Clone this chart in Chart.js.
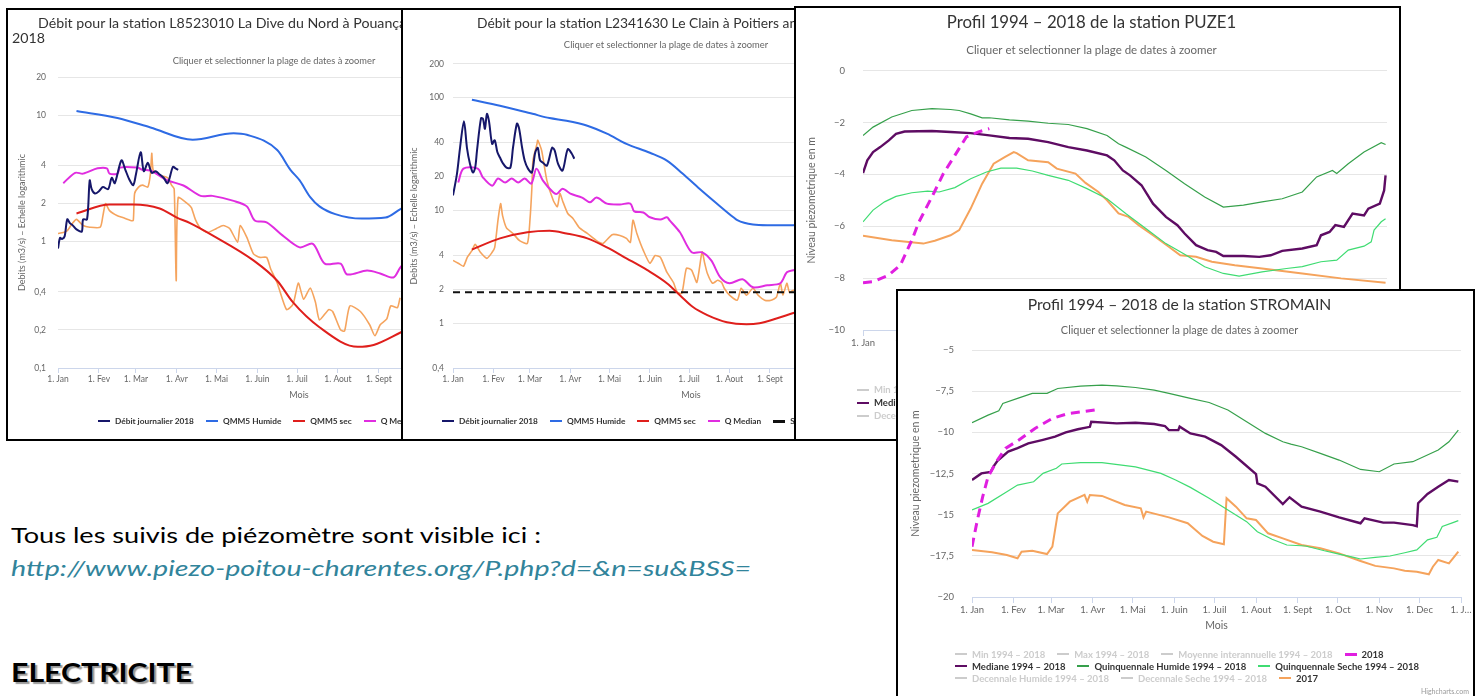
<!DOCTYPE html>
<html lang="fr">
<head>
<meta charset="utf-8">
<title>Débits et piézomètres</title>
<script src="https://cdn.jsdelivr.net/npm/chart.js@4.4.1/dist/chart.umd.min.js"></script>
<style>
  body { margin: 0; width: 1480px; height: 696px; background: #fff; position: relative; overflow: hidden; font-family: Lato, sans-serif; }
  .panel { position: absolute; box-sizing: border-box; border: 2px solid #000; background: #fff; overflow: hidden; }
  .panel canvas { position: absolute; left: 0; top: 0; }
  #p1 { left: 6px; top: 8px; width: 412px; height: 433px; z-index: 1; }
  #p2 { left: 401px; top: 8px; width: 400px; height: 433px; z-index: 2; }
  #p3 { left: 794px; top: 6px; width: 607px; height: 435px; z-index: 3; }
  #p4 { left: 896px; top: 289px; width: 579px; height: 430px; z-index: 4; }
  .htitle { position: absolute; white-space: nowrap; font-size: 14.2px; line-height: 16px; color: #333; }
  .legend { position: absolute; white-space: nowrap; font-weight: bold; color: #333; }
  .legend .row { display: flex; align-items: center; }
  .legend .item { display: flex; align-items: center; margin-right: 12px; }
  .legend .sym { display: inline-block; width: 12px; height: 0; border-top: 2px solid #000; margin-right: 5px; }
  #l1, #l2 { top: 405px; font-size: 8.3px; }
  #l1 .row, #l2 .row { height: 12px; }
  #l1 { left: 90px; }
  #l2 { left: 39px; }
  #l3 { left: 61px; top: 375px; font-size: 9.5px; }
  #l3 .row { height: 13px; }
  #l4 { left: 57px; top: 357px; font-size: 9.5px; }
  #l4 .row { height: 12px; }
  .credit { position: absolute; right: 4px; top: 396px; font-size: 7px; color: #999; }
  .doc { position: absolute; left: 11px; white-space: nowrap; transform-origin: left center; }
  #t1 { top: 522px; font-size: 22px; line-height: 26px; color: #000; transform: scaleX(1.233); }
  #t2 { top: 555px; font-size: 22px; line-height: 26px; font-style: italic; color: #31849b; transform: scaleX(1.3); }
  #t3 { top: 656px; font-size: 27px; line-height: 32px; font-weight: bold; color: #000; text-shadow: 2px 2px 1px #9a9a9a; transform: scaleX(1.12); }
</style>
</head>
<body>

<div class="panel" id="p1">
  <canvas id="c1" width="538" height="429"></canvas>
  <div class="htitle" style="left:30px; top:5px">Débit pour la station L8523010 La Dive du Nord à Pouançay année</div>
  <div class="htitle" style="left:4px; top:20px">2018</div>
  <div class="legend" id="l1"></div>
</div>

<div class="panel" id="p2">
  <canvas id="c2" width="532" height="429"></canvas>
  <div class="legend" id="l2"></div>
</div>

<div class="panel" id="p3">
  <canvas id="c3" width="603" height="431"></canvas>
  <div class="legend" id="l3"></div>
</div>

<div class="panel" id="p4">
  <canvas id="c4" width="575" height="426"></canvas>
  <div class="legend" id="l4"></div>
  <div class="credit">Highcharts.com</div>
</div>

<div class="doc" id="t1">Tous les suivis de piézomètre sont visible ici :</div>
<div class="doc" id="t2">http://www.piezo-poitou-charentes.org/P.php?d=&amp;n=su&amp;BSS=</div>
<div class="doc" id="t3">ELECTRICITE</div>

<script>
// axis ticks (day of year)
const monthStarts = [0, 31, 59, 90, 120, 151, 181, 212, 243, 273, 304, 334];
const monthLabels = ['1. Jan', '1. Fev', '1. Mar', '1. Avr', '1. Mai', '1. Juin', '1. Juil', '1. Aout', '1. Sept', '1. Oct', '1. Nov', '1. Dec'];
const yearTicks = monthStarts.concat([365]);
const yearLabels = monthLabels.concat(['1. J…']);

const diveTicks = [0.1, 0.2, 0.4, 1, 2, 4, 10, 20];
const clainTicks = [0.4, 1, 2, 4, 10, 20, 40, 100, 200];

// La Dive du Nord a Pouancay
const diveDays2018 = [0, 1.5, 3, 5, 7, 9, 11, 14, 18, 19, 22, 24, 25.5, 28, 31, 34, 38, 40.7, 43, 48, 51, 54, 57, 59, 62.6, 65, 68, 71, 74, 77, 80, 83, 87, 89, 91];
const diveFlow2018 = [0.88, 1.07, 1.05, 1.1, 1.5, 1.4, 1.35, 1.25, 1.2, 1.5, 1.5, 3.05, 2.6, 2.4, 2.5, 2.7, 2.6, 3.2, 2.9, 4.4, 3.7, 3.1, 2.8, 3.4, 5.1, 3.6, 4.2, 3.5, 3.6, 3.4, 3.2, 2.9, 3.9, 3.8, 3.7];
const diveHumDays = [14, 45, 70, 102, 133, 143, 166, 176, 183, 191, 198, 210, 230, 248, 259, 267];
const diveHum = [10.8, 9.5, 8.0, 6.4, 7.2, 7.0, 5.3, 3.7, 3.05, 2.25, 1.9, 1.65, 1.52, 1.55, 1.8, 2.0];
const diveSecDays = [14, 39, 57, 77, 90, 100, 117, 148, 166, 178, 198, 227, 239, 259, 267];
const diveSec = [1.67, 1.97, 1.97, 1.83, 1.55, 1.4, 1.12, 0.71, 0.49, 0.33, 0.21, 0.147, 0.152, 0.19, 0.21];
const diveMedDays = [4, 13, 19, 30, 37, 39, 45, 47, 60, 64, 70, 83, 95, 108, 117, 133, 143, 149, 158, 170, 183, 193, 202, 214, 219, 234, 244, 254, 259, 263];
const diveMed = [2.9, 3.5, 3.45, 3.8, 3.8, 3.45, 3.45, 3.85, 3.85, 3.7, 3.65, 3.05, 2.78, 2.3, 2.3, 2.1, 1.9, 1.47, 1.42, 1.12, 0.9, 0.96, 0.67, 0.67, 0.55, 0.59, 0.56, 0.52, 0.62, 0.7];
const diveDays2017 = [0, 4, 7, 11, 14, 19, 24, 32, 34, 36, 39, 45, 49, 55, 57, 58, 61, 64, 68, 70, 71, 72, 75, 77, 83, 86, 88, 89.5, 91, 98, 101, 104, 108, 113, 120, 125, 130, 136, 138, 143, 148, 153, 158, 161, 166, 173, 178, 182, 186, 191, 195, 198, 205, 208, 214, 217, 221, 229, 236, 240, 244, 249, 252, 257, 259];
const diveFlow2017 = [1.16, 1.18, 1.22, 1.4, 1.5, 1.34, 1.3, 1.3, 1.6, 2.0, 1.76, 1.6, 1.55, 1.47, 1.47, 2.4, 2.7, 2.8, 2.7, 3.45, 5.0, 3.7, 3.45, 3.35, 3.2, 2.8, 2.6, 0.49, 2.23, 2.0, 1.86, 1.5, 1.27, 1.18, 1.27, 1.34, 1.27, 0.99, 1.34, 1.08, 0.8, 0.75, 0.75, 0.61, 0.47, 0.29, 0.32, 0.47, 0.35, 0.43, 0.33, 0.24, 0.29, 0.28, 0.2, 0.196, 0.31, 0.28, 0.22, 0.18, 0.22, 0.245, 0.31, 0.3, 0.36];

// Le Clain a Poitiers
const clainDays2018 = [0, 3, 5.4, 8.4, 10.7, 13, 15.3, 17, 18.4, 21.5, 23, 24.5, 26, 27.6, 30, 32, 34, 36, 38, 41, 44, 46, 49, 50.6, 53, 55, 57.5, 60.5, 63, 65, 66.7, 69, 72, 76, 78, 80.5, 84, 88, 91, 93];
const clainFlow2018 = [13.6, 21, 36, 62, 36, 26, 21.7, 24, 34, 66, 65, 53, 72, 62, 39, 42, 33, 29.5, 26.5, 24, 24, 36, 59, 54, 36, 27.6, 23.5, 21.7, 32.5, 36, 28, 26.5, 25, 36, 34, 26, 22.6, 35, 32, 28.8];
const clainHumDays = [14.5, 36, 61, 74, 87, 103, 118, 133, 151, 164, 176, 189, 202, 215, 218, 230, 241, 261, 266];
const clainHum = [96, 85, 72, 66, 62.6, 56.5, 48, 39, 32.5, 27.7, 21.3, 15.6, 11.6, 8.7, 8.2, 7.5, 7.4, 7.4, 7.5];
const clainSecDays = [14.5, 36, 57, 74, 87, 103, 118, 133, 149, 164, 174, 184, 195, 210, 225, 235, 248, 261, 266];
const clainSec = [4.5, 5.65, 6.4, 6.6, 6.25, 5.65, 4.7, 3.76, 2.95, 2.26, 1.77, 1.39, 1.18, 1.02, 0.98, 1.0, 1.1, 1.23, 1.28];
const clainMedDays = [4, 8, 19, 23, 30, 34.5, 40, 45, 50, 55, 60, 64, 69, 77, 80, 84, 90, 99, 105, 110, 118, 128, 136, 139, 146, 151, 159, 164, 166, 174, 183, 191, 198, 205, 212, 222, 230, 241, 251, 256, 261, 266];
const clainMed = [17.7, 23.5, 23.5, 19.6, 16.6, 19.2, 17.7, 19.2, 17.7, 19.2, 17.3, 23.5, 18.4, 14.4, 14.1, 15.6, 14.1, 13.0, 11.8, 13.0, 11.5, 11.3, 11.5, 9.8, 9.6, 8.7, 8.3, 8.7, 8.2, 6.4, 4.25, 4.25, 3.6, 2.55, 2.26, 2.45, 2.08, 2.17, 2.26, 2.83, 2.95, 3.0];
const clainSeuilDays = [0, 365];
const clainSeuil = [1.88, 1.88];
const clainDays2017 = [0, 4, 8, 11, 14.5, 17, 21, 26, 30, 32, 34.5, 36.5, 38, 41, 46, 51, 57, 59, 60.5, 61.3, 64.4, 65, 68, 72, 77, 80, 82, 84, 88, 92, 97, 103, 110, 115, 122, 128, 133, 136, 138, 141, 146, 151, 155, 159, 164, 169, 172, 175.5, 179, 183, 187, 191, 193, 195, 199, 203, 206, 208, 212, 218, 221, 225, 230, 234, 239, 244, 248, 251, 253, 256, 258, 261, 266];
const clainFlow2017 = [3.6, 3.4, 3.2, 3.85, 4.4, 5.0, 4.25, 3.76, 4.25, 4.7, 8.2, 11.5, 9, 7.0, 6.25, 5.4, 5.1, 8.2, 16, 27.7, 39, 42, 34, 18.4, 12.2, 10.8, 14.1, 12.2, 9.4, 8.5, 7.0, 6.25, 5.4, 5.1, 6.1, 6.0, 5.65, 5.2, 8.2, 6.25, 4.4, 3.4, 3.98, 3.84, 2.83, 2.3, 1.88, 1.84, 3.07, 2.95, 2.3, 4.3, 3.4, 2.77, 2.26, 2.4, 2.3, 2.04, 1.77, 1.6, 2.04, 1.77, 2.04, 1.77, 1.6, 1.6, 1.7, 2.26, 1.77, 2.26, 1.88, 1.96, 1.9];

// PUZE1
const puzeDays2018 = [0, 7, 18, 26, 34, 39, 48, 56, 64, 72, 80, 88];
const puze2018 = [-8.18, -8.14, -7.88, -7.5, -6.54, -5.83, -4.87, -3.97, -3.27, -2.56, -2.37, -2.24];
const puzeMedDays = [0, 3, 7, 12, 18, 23, 29, 48, 61, 75, 88, 102, 115, 129, 143, 156, 170, 175, 181, 186, 194, 202, 211, 219, 224, 232, 240, 246, 251, 265, 276, 284, 292, 306, 316, 319, 325, 329, 335, 341, 349, 352, 360, 363, 364];
const puzeMed = [-3.95, -3.46, -3.14, -2.95, -2.69, -2.44, -2.35, -2.33, -2.37, -2.41, -2.5, -2.6, -2.63, -2.76, -2.95, -3.08, -3.27, -3.46, -3.85, -4.04, -4.42, -5.13, -5.64, -5.96, -6.28, -6.73, -6.92, -6.99, -7.15, -7.15, -7.18, -7.12, -6.95, -6.86, -6.73, -6.35, -6.22, -5.96, -6.03, -5.51, -5.58, -5.32, -5.13, -4.62, -4.04];
const puzeHumDays = [0, 7, 20, 34, 48, 61, 67, 75, 83, 88, 102, 115, 129, 143, 156, 170, 178, 183, 197, 211, 224, 238, 251, 265, 278, 292, 306, 316, 327, 330, 338, 349, 361, 364];
const puzeHum = [-2.5, -2.18, -1.79, -1.54, -1.47, -1.5, -1.54, -1.67, -1.82, -1.82, -1.9, -1.95, -2.03, -2.08, -2.24, -2.5, -2.82, -2.95, -3.33, -3.85, -4.36, -4.87, -5.26, -5.19, -5.06, -4.94, -4.68, -4.1, -3.85, -3.97, -3.59, -3.14, -2.78, -2.85];
const puzeSecDays = [0, 7, 15, 23, 34, 45, 53, 64, 75, 86, 96, 107, 118, 129, 143, 156, 170, 183, 197, 211, 224, 238, 251, 262, 278, 295, 306, 319, 330, 338, 349, 354, 356, 361, 364];
const puzeSec = [-5.83, -5.38, -5.06, -4.85, -4.71, -4.65, -4.68, -4.51, -4.17, -3.91, -3.76, -3.76, -3.87, -4.04, -4.23, -4.55, -4.94, -5.51, -6.09, -6.67, -7.08, -7.56, -7.82, -7.92, -7.76, -7.63, -7.56, -7.37, -7.31, -6.92, -6.77, -6.6, -6.15, -5.83, -5.71];
const puzeDays2017 = [0, 20, 42, 50, 61, 67, 75, 83, 91, 99, 105, 107, 115, 129, 135, 148, 155, 164, 170, 178, 185, 192, 202, 213, 221, 232, 243, 259, 278, 306, 333, 364];
const puze2017 = [-6.37, -6.54, -6.67, -6.56, -6.35, -6.15, -5.32, -4.36, -3.59, -3.33, -3.14, -3.18, -3.46, -3.53, -3.78, -3.97, -4.33, -4.68, -5.0, -5.51, -5.64, -5.96, -6.35, -6.79, -7.12, -7.18, -7.37, -7.5, -7.63, -7.82, -8.01, -8.18];

// STROMAIN
const stroDays2018 = [0, 4, 8, 12, 19, 25, 35, 47, 60, 72, 82, 92];
const stro2018 = [-16.94, -15.32, -13.9, -12.69, -11.68, -10.97, -10.46, -9.76, -9.15, -8.85, -8.75, -8.64];
const stroMedDays = [0, 7, 14, 16, 19, 27, 34, 42, 53, 62, 70, 79, 88, 89, 108, 122, 136, 144, 147, 154, 155, 163, 174, 186, 197, 212, 213, 219, 232, 237, 246, 260, 274, 290, 293, 307, 315, 329, 332, 333, 340, 348, 356, 363];
const stroMed = [-12.89, -12.49, -12.4, -12.08, -11.72, -11.17, -10.95, -10.67, -10.45, -10.26, -10.0, -9.81, -9.66, -9.35, -9.45, -9.41, -9.49, -9.61, -9.86, -9.86, -9.65, -10.06, -10.26, -10.77, -11.48, -12.53, -13.1, -13.3, -14.35, -13.94, -14.51, -14.81, -15.16, -15.52, -15.22, -15.48, -15.48, -15.63, -15.7, -14.3, -13.74, -13.3, -12.89, -12.99];
const stroHumDays = [0, 12, 20, 23, 34, 45, 56, 64, 81, 97, 108, 122, 136, 147, 163, 177, 191, 205, 219, 232, 238, 246, 260, 274, 290, 304, 315, 329, 348, 356, 363];
const stroHum = [-9.41, -8.95, -8.68, -8.24, -7.93, -7.63, -7.63, -7.33, -7.19, -7.13, -7.17, -7.27, -7.43, -7.63, -7.93, -8.18, -8.64, -9.35, -10.06, -10.57, -10.71, -10.87, -11.27, -11.68, -12.25, -12.39, -11.92, -11.78, -11.07, -10.57, -9.86];
const stroSecDays = [0, 12, 26, 34, 46, 53, 63, 67, 81, 97, 122, 141, 152, 163, 177, 191, 205, 213, 224, 235, 249, 263, 274, 285, 290, 301, 312, 323, 332, 340, 347, 351, 359, 363];
const stroSec = [-14.71, -14.31, -13.6, -13.2, -13.0, -12.49, -12.18, -11.92, -11.84, -11.84, -12.09, -12.49, -12.89, -13.34, -14.0, -14.71, -15.42, -16.03, -16.49, -16.84, -16.9, -17.19, -17.39, -17.59, -17.69, -17.59, -17.51, -17.31, -17.14, -16.53, -16.37, -15.72, -15.48, -15.36];
const stroDays2017 = [0, 15, 26, 34, 37, 45, 56, 60, 64, 73, 84, 86, 88, 97, 114, 126, 128, 130, 147, 161, 172, 180, 188, 190, 197, 205, 212, 221, 232, 246, 260, 274, 290, 301, 315, 323, 332, 341, 344, 348, 356, 359, 363];
const stro2017 = [-17.14, -17.28, -17.45, -17.65, -17.25, -17.19, -17.39, -16.94, -14.92, -14.21, -13.8, -14.21, -13.8, -13.86, -14.41, -14.61, -15.16, -14.81, -15.16, -15.52, -16.29, -16.64, -16.8, -14.0, -14.51, -15.22, -15.32, -16.13, -16.44, -16.84, -17.04, -17.35, -17.81, -18.11, -18.26, -18.4, -18.46, -18.62, -18.16, -17.75, -17.96, -17.65, -17.25];

Chart.defaults.font.family = 'Lato, sans-serif';
Chart.defaults.color = '#666';

const pts = (xs, ys) => xs.map((x, i) => ({ x: x, y: ys[i] }));

// legend drawn as html, rows like the highcharts one
const htmlLegend = {
    id: 'htmlLegend',
    afterUpdate(chart, args, opts) {
        const box = document.getElementById(opts.containerID);
        box.innerHTML = '';
        const sets = chart.data.datasets;
        const rows = opts.rows || [sets.length];
        let start = 0;
        rows.forEach((n) => {
            const row = document.createElement('div');
            row.className = 'row';
            sets.slice(start, start + n).forEach((ds) => {
                const item = document.createElement('span');
                item.className = 'item';
                const sym = document.createElement('span');
                sym.className = 'sym';
                sym.style.borderTopColor = ds.hidden ? '#ccc' : ds.borderColor;
                if (ds.borderDash) {
                    sym.style.borderTopStyle = 'dashed';
                    sym.style.borderTopWidth = '3px';
                }
                const txt = document.createElement('span');
                txt.textContent = ds.label;
                if (ds.hidden) txt.style.color = '#ccc';
                item.append(sym, txt);
                row.appendChild(item);
            });
            box.appendChild(row);
            start += n;
        });
    }
};

function monthAxis(o) {
    return {
        type: 'linear',
        min: 0,
        max: 365,
        afterBuildTicks: (s) => { s.ticks = o.ticks.map((v) => ({ value: v })); },
        afterFit: (s) => { s.height = 36; },
        ticks: {
            autoSkip: false,
            maxRotation: 0,
            padding: 1,
            color: '#666',
            font: { size: o.size },
            callback: (v, i) => o.labels[i],
        },
        grid: { drawOnChartArea: false, color: '#ccd6eb', tickLength: o.tick },
        border: { color: '#ccd6eb' },
        title: { display: true, text: 'Mois', color: '#666', font: { size: o.titleSize }, padding: { top: 0, bottom: o.titlePad } },
    };
}

function logAxis(o) {
    return {
        type: 'logarithmic',
        min: o.min,
        max: o.max,
        afterBuildTicks: (s) => { s.ticks = o.ticks.map((v) => ({ value: v })); },
        afterFit: (s) => { s.width = 50; },
        ticks: { padding: o.pad, color: '#666', font: { size: 8.5 }, callback: (v) => String(v).replace('.', ',') },
        grid: { color: '#e6e6e6', drawTicks: false },
        border: { display: false },
        title: { display: true, text: 'Debits (m3/s) – Echelle logarithmic', color: '#666', font: { size: 9 }, padding: { top: o.titlePad } },
    };
}

function levelAxis(o) {
    return {
        type: 'linear',
        min: o.min,
        max: o.max,
        afterFit: (s) => { s.width = o.width; },
        ticks: { stepSize: o.step, padding: 18, color: '#666', font: { size: 9.5 }, callback: (v) => String(v).replace('-', '−').replace('.', ',') },
        grid: { color: '#e6e6e6', drawTicks: false },
        border: { display: false },
        title: { display: true, text: 'Niveau piezometrique en m', color: '#666', font: { size: 10.5 }, padding: { top: o.titlePad } },
    };
}

const subtitleText = 'Cliquer et selectionner la plage de dates à zoomer';

// Dive du Nord
new Chart(document.getElementById('c1'), {
    type: 'line',
    data: {
        datasets: [
            { label: 'Débit journalier 2018', data: pts(diveDays2018, diveFlow2018), borderColor: '#16176a', tension: 0.3 },
            { label: 'QMM5 Humide', data: pts(diveHumDays, diveHum), borderColor: '#2e6be4', cubicInterpolationMode: 'monotone' },
            { label: 'QMM5 sec', data: pts(diveSecDays, diveSec), borderColor: '#df1f1c', cubicInterpolationMode: 'monotone' },
            { label: 'Q Median', data: pts(diveMedDays, diveMed), borderColor: '#e02de0', tension: 0.3 },
            { label: 'Débit journalier 2017', data: pts(diveDays2017, diveFlow2017), borderColor: '#f5a45e', borderWidth: 1.6, tension: 0.2 },
        ],
    },
    options: {
        responsive: false,
        animation: false,
        devicePixelRatio: 1,
        layout: { padding: { top: 40, right: 6, bottom: 35, left: 0 } },
        elements: { point: { radius: 0 }, line: { borderWidth: 2 } },
        plugins: {
            legend: { display: false },
            tooltip: { enabled: false },
            subtitle: { display: true, text: subtitleText, color: '#666', font: { size: 9.3 }, padding: { top: 5, bottom: 11 } },
            htmlLegend: { containerID: 'l1' },
        },
        scales: {
            x: monthAxis({ ticks: monthStarts, labels: monthLabels, size: 8.5, tick: 5, titleSize: 9, titlePad: 3.6 }),
            y: logAxis({ min: 0.1, max: 20, ticks: diveTicks, pad: 12, titlePad: 8.6 }),
        },
    },
    plugins: [htmlLegend],
});

// Clain
new Chart(document.getElementById('c2'), {
    type: 'line',
    data: {
        datasets: [
            { label: 'Débit journalier 2018', data: pts(clainDays2018, clainFlow2018), borderColor: '#16176a', tension: 0.3 },
            { label: 'QMM5 Humide', data: pts(clainHumDays, clainHum), borderColor: '#2e6be4', cubicInterpolationMode: 'monotone' },
            { label: 'QMM5 sec', data: pts(clainSecDays, clainSec), borderColor: '#df1f1c', cubicInterpolationMode: 'monotone' },
            { label: 'Q Median', data: pts(clainMedDays, clainMed), borderColor: '#e02de0', tension: 0.3 },
            { label: 'Seuil', data: pts(clainSeuilDays, clainSeuil), borderColor: '#111', borderDash: [7, 5] },
            { label: 'Débit journalier 2017', data: pts(clainDays2017, clainFlow2017), borderColor: '#f5a45e', borderWidth: 1.6, tension: 0.2 },
        ],
    },
    options: {
        responsive: false,
        animation: false,
        devicePixelRatio: 1,
        layout: { padding: { top: 0, right: 6, bottom: 35, left: 0 } },
        elements: { point: { radius: 0 }, line: { borderWidth: 2 } },
        plugins: {
            legend: { display: false },
            tooltip: { enabled: false },
            title: { display: true, text: 'Débit pour la station L2341630 Le Clain à Poitiers année 2018', color: '#333', font: { size: 13.8, weight: 'normal' }, padding: { top: 5, bottom: 8 } },
            subtitle: { display: true, text: subtitleText, color: '#666', font: { size: 9.4 }, padding: { top: 0, bottom: 13 } },
            htmlLegend: { containerID: 'l2' },
        },
        scales: {
            x: monthAxis({ ticks: monthStarts, labels: monthLabels, size: 8.5, tick: 5, titleSize: 9, titlePad: 3.6 }),
            y: logAxis({ min: 0.4, max: 200, ticks: clainTicks, pad: 9, titlePad: 5.6 }),
        },
    },
    plugins: [htmlLegend],
});

function profileSets(d2018, v2018, dMed, vMed, dHum, vHum, dSec, vSec, d2017, v2017) {
    return [
        { label: 'Min 1994 – 2018', data: [], hidden: true, borderColor: '#888' },
        { label: 'Max 1994 – 2018', data: [], hidden: true, borderColor: '#888' },
        { label: 'Moyenne interannuelle 1994 – 2018', data: [], hidden: true, borderColor: '#888' },
        { label: '2018', data: pts(d2018, v2018), borderColor: '#e01fe0', borderWidth: 3, borderDash: [9, 6] },
        { label: 'Mediane 1994 – 2018', data: pts(dMed, vMed), borderColor: '#5e0c63', borderWidth: 2.4 },
        { label: 'Quinquennale Humide 1994 – 2018', data: pts(dHum, vHum), borderColor: '#36a04b', borderWidth: 1.2 },
        { label: 'Quinquennale Seche 1994 – 2018', data: pts(dSec, vSec), borderColor: '#3fdc72', borderWidth: 1.2 },
        { label: 'Decennale Humide 1994 – 2018', data: [], hidden: true, borderColor: '#888' },
        { label: 'Decennale Seche 1994 – 2018', data: [], hidden: true, borderColor: '#888' },
        { label: '2017', data: pts(d2017, v2017), borderColor: '#f5a35c', borderWidth: 2 },
    ];
}

// PUZE1
new Chart(document.getElementById('c3'), {
    type: 'line',
    data: { datasets: profileSets(puzeDays2018, puze2018, puzeMedDays, puzeMed, puzeHumDays, puzeHum, puzeSecDays, puzeSec, puzeDays2017, puze2017) },
    options: {
        responsive: false,
        animation: false,
        devicePixelRatio: 1,
        layout: { padding: { top: 0, right: 12, bottom: 73, left: 0 } },
        elements: { point: { radius: 0 } },
        plugins: {
            legend: { display: false },
            tooltip: { enabled: false },
            title: { display: true, text: 'Profil 1994 – 2018 de la station PUZE1', color: '#333', font: { size: 16.8, weight: 'normal' }, padding: { top: 5, bottom: 10 } },
            subtitle: { display: true, text: subtitleText, color: '#666', font: { size: 11.5 }, padding: { top: 0, bottom: 13.6 } },
            htmlLegend: { containerID: 'l3', rows: [4, 3, 3] },
        },
        scales: {
            x: monthAxis({ ticks: yearTicks, labels: yearLabels, size: 9.5, tick: 6, titleSize: 10.5, titlePad: 1 }),
            y: levelAxis({ min: -10, max: 0, step: 2, width: 67, titlePad: 9.7 }),
        },
    },
    plugins: [htmlLegend],
});

// STROMAIN
new Chart(document.getElementById('c4'), {
    type: 'line',
    data: { datasets: profileSets(stroDays2018, stro2018, stroMedDays, stroMed, stroHumDays, stroHum, stroSecDays, stroSec, stroDays2017, stro2017) },
    options: {
        responsive: false,
        animation: false,
        devicePixelRatio: 1,
        layout: { padding: { top: 0, right: 12, bottom: 84, left: 0 } },
        elements: { point: { radius: 0 } },
        plugins: {
            legend: { display: false },
            tooltip: { enabled: false },
            title: { display: true, text: 'Profil 1994 – 2018 de la station STROMAIN', color: '#333', font: { size: 15.7, weight: 'normal' }, padding: { top: 4.6, bottom: 10 } },
            subtitle: { display: true, text: subtitleText, color: '#666', font: { size: 10.9 }, padding: { top: 0, bottom: 12.6 } },
            htmlLegend: { containerID: 'l4', rows: [4, 3, 3] },
        },
        scales: {
            x: monthAxis({ ticks: yearTicks, labels: yearLabels, size: 9.5, tick: 6, titleSize: 10.5, titlePad: 1 }),
            y: levelAxis({ min: -20, max: -5, step: 2.5, width: 74, titlePad: 11.7 }),
        },
    },
    plugins: [htmlLegend],
});
</script>
</body>
</html>
